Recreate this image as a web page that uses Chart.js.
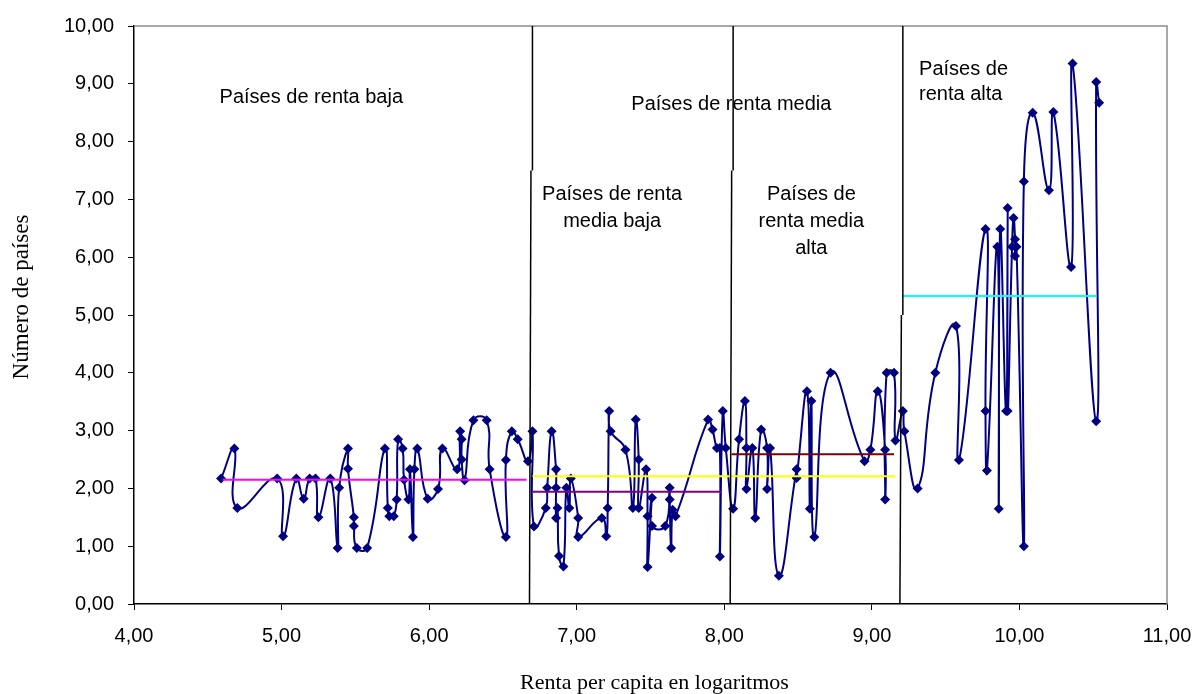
<!DOCTYPE html>
<html>
<head>
<meta charset="utf-8">
<script src="https://cdn.jsdelivr.net/npm/chart.js@4/dist/chart.umd.min.js"></script>
<style>
  html, body { margin: 0; padding: 0; background: #fff; }
  #wrap { width: 1200px; height: 694px; }
</style>
</head>
<body>
<div id="wrap"><canvas id="c" width="1200" height="694"></canvas></div>
<script>
// Renta per capita (log) de cada país, ordenada
const renta = [
  4.59, 4.68, 4.70, 4.97, 5.01, 5.10, 5.15, 5.19, 5.23, 5.25,
  5.33, 5.38, 5.39, 5.45, 5.45, 5.49, 5.49, 5.51, 5.58, 5.70,
  5.72, 5.73, 5.76, 5.78, 5.79, 5.82, 5.83, 5.86, 5.87, 5.89,
  5.90, 5.92, 5.99, 6.06, 6.09, 6.19, 6.21, 6.22, 6.22, 6.24,
  6.30, 6.39, 6.41, 6.52, 6.52, 6.56, 6.60, 6.67, 6.70, 6.71,
  6.79, 6.80, 6.83, 6.86, 6.86, 6.86, 6.87, 6.88, 6.91, 6.93,
  6.95, 6.96, 7.01, 7.01, 7.17, 7.20, 7.21, 7.22, 7.23, 7.33,
  7.38, 7.40, 7.42, 7.42, 7.47, 7.48, 7.48, 7.51, 7.51, 7.60,
  7.63, 7.63, 7.64, 7.65, 7.67, 7.89, 7.92, 7.95, 7.97, 7.97,
  7.99, 8.01, 8.06, 8.10, 8.14, 8.15, 8.15, 8.19, 8.21, 8.25,
  8.29, 8.29, 8.31, 8.37, 8.49, 8.49, 8.56, 8.58, 8.59, 8.61,
  8.72, 8.95, 8.99, 9.04, 9.09, 9.09, 9.10, 9.15, 9.16, 9.21,
  9.22, 9.31, 9.43, 9.57, 9.59, 9.77, 9.77, 9.78, 9.85, 9.86,
  9.87, 9.91, 9.92, 9.92, 9.95, 9.96, 9.97, 9.97, 9.98, 10.03,
  10.03, 10.09, 10.20, 10.23, 10.35, 10.36, 10.52, 10.52, 10.54
];
// Número de países asociado a cada valor de renta
const numPaises = [
  2.17, 2.69, 1.66, 2.17, 1.17, 2.17, 1.82, 2.17, 2.17, 1.50,
  2.17, 0.97, 2.01, 2.69, 2.34, 1.50, 1.35, 0.97, 0.97, 2.69,
  1.66, 1.52, 1.52, 1.81, 2.85, 2.69, 2.15, 1.81, 2.33, 1.16,
  2.33, 2.69, 1.82, 1.99, 2.69, 2.33, 2.99, 2.85, 2.50, 2.14,
  3.18, 3.18, 2.33, 1.16, 2.49, 2.99, 2.85, 2.47, 2.99, 1.34,
  1.66, 2.01, 2.99, 2.33, 2.01, 1.49, 1.66, 0.83, 0.65, 2.01,
  1.66, 2.17, 1.49, 1.16, 1.49, 1.17, 1.66, 3.34, 2.99, 2.67,
  1.66, 3.19, 2.50, 1.66, 2.33, 1.52, 0.64, 1.84, 1.35, 1.35,
  2.01, 1.81, 0.97, 1.63, 1.52, 3.19, 3.02, 2.70, 2.70, 0.82,
  3.34, 2.70, 1.65, 2.85, 3.51, 2.70, 1.99, 2.70, 1.49, 3.02,
  2.70, 1.99, 2.70, 0.49, 2.33, 2.18, 3.68, 1.65, 3.51, 1.16,
  4.00, 2.47, 2.67, 3.68, 2.67, 1.81, 4.00, 4.00, 2.83, 3.34,
  2.99, 2.00, 4.00, 4.81, 2.49, 6.49, 3.34, 2.31, 6.18, 1.65,
  6.49, 3.34, 6.85, 3.34, 6.18, 6.68, 6.31, 6.02, 6.18, 1.00,
  7.31, 8.50, 7.16, 8.51, 5.83, 9.35, 3.16, 9.03, 8.67
];

// Medias por grupo de renta
const mediaGrupo  = ['baja', 'media', 'media baja', 'media alta', 'alta'];
const mediaValor  = [2.15, 2.21, 1.94, 2.59, 5.33];
const mediaDesde  = [4.60, 6.70, 6.70, 8.05, 9.21];
const mediaHasta  = [6.66, 9.16, 7.98, 9.15, 10.52];
const mediaColor  = ['#FF00FF', '#FFFF00', '#800080', '#800000', '#00FFFF'];

// Límites entre grupos (tramo superior e inferior de cada separador)
const limiteSup   = [6.70, 8.06, 9.21];
const limiteInf   = [6.68, 8.04, 9.19];
const limiteCorte = [7.5, 7.5, 5.0];

const ejeX = { min: 4, max: 11, paso: 1 };
const ejeY = { min: 0, max: 10, paso: 1 };

const fmt = v => Number(v).toFixed(2).replace('.', ',');

const datasets = [];
datasets.push({
  label: 'Número de países',
  data: renta.map((x, i) => ({ x, y: numPaises[i] })),
  showLine: true,
  borderColor: '#000080',
  borderWidth: 2,
  backgroundColor: '#000080',
  pointStyle: 'rectRot',
  pointRadius: 5,
  pointBorderWidth: 0,
  pointBackgroundColor: '#000080',
  tension: 0.5,
  order: 10
});
mediaValor.forEach((v, i) => {
  datasets.push({
    label: 'Media ' + mediaGrupo[i],
    data: [{ x: mediaDesde[i], y: v }, { x: mediaHasta[i], y: v }],
    showLine: true,
    borderColor: mediaColor[i],
    borderWidth: 2,
    pointRadius: 0,
    tension: 0,
    order: 2
  });
});
limiteSup.forEach((xs, i) => {
  datasets.push({
    label: 'Límite ' + (i + 1),
    data: [{ x: xs, y: ejeY.max }, { x: xs, y: limiteCorte[i] }],
    showLine: true, borderColor: '#000', borderWidth: 1.5, pointRadius: 0, tension: 0, order: 1
  });
  datasets.push({
    label: 'Límite ' + (i + 1) + 'b',
    data: [{ x: limiteInf[i] + 0.01, y: limiteCorte[i] }, { x: limiteInf[i], y: ejeY.min }],
    showLine: true, borderColor: '#000', borderWidth: 1.5, pointRadius: 0, tension: 0, order: 1
  });
});

// Rótulos de los grupos: [líneas, x, y, alineación, interlineado]
const rotulos = [
  [['Países de renta baja'], 4.58, 8.76, 'left', 27],
  [['Países de renta media'], 7.37, 8.64, 'left', 27],
  [['Países de renta', 'media baja'], 7.24, 7.08, 'center', 27],
  [['Países de', 'renta media', 'alta'], 8.59, 7.08, 'center', 27],
  [['Países de', 'renta alta'], 9.32, 9.25, 'left', 25]
];

const decoracion = {
  id: 'decoracion',
  beforeDatasetsDraw(chart) {
    const { ctx, chartArea: a } = chart;
    ctx.save();
    ctx.strokeStyle = '#8c8c8c';
    ctx.lineWidth = 1.5;
    ctx.beginPath();
    ctx.moveTo(a.left, a.top);
    ctx.lineTo(a.right, a.top);
    ctx.lineTo(a.right, a.bottom);
    ctx.stroke();
    ctx.restore();
  },
  afterDatasetsDraw(chart) {
    const { ctx, scales: { x, y } } = chart;
    ctx.save();
    ctx.fillStyle = '#000';
    ctx.font = '20px "Liberation Sans", Arial, sans-serif';
    ctx.textBaseline = 'middle';
    rotulos.forEach(([lineas, vx, vy, al, lh]) => {
      ctx.textAlign = al;
      const px = x.getPixelForValue(vx);
      const py = y.getPixelForValue(vy);
      lineas.forEach((t, k) => ctx.fillText(t, px, py + k * lh));
    });
    // Títulos de los ejes
    ctx.font = '22px "Liberation Serif", "Times New Roman", serif';
    ctx.textAlign = 'center';
    ctx.fillText('Renta per capita en logaritmos', (chart.chartArea.left + chart.chartArea.right) / 2 + 4, 683);
    ctx.translate(22, 297);
    ctx.rotate(-Math.PI / 2);
    ctx.font = '23px "Liberation Serif", "Times New Roman", serif';
    ctx.fillText('Número de países', 0, 0);
    ctx.restore();
  }
};

const tickFont = { family: '"Liberation Sans", Arial, sans-serif', size: 20 };

new Chart(document.getElementById('c'), {
  type: 'scatter',
  data: { datasets },
  options: {
    responsive: false,
    animation: false,
    layout: { padding: { left: 0, top: 26, right: 33, bottom: 0 } },
    plugins: { legend: { display: false }, tooltip: { enabled: false } },
    scales: {
      x: {
        type: 'linear', min: ejeX.min, max: ejeX.max,
        ticks: { stepSize: ejeX.paso, callback: fmt, color: '#000', font: tickFont, padding: 14, maxRotation: 0 },
        grid: { drawOnChartArea: false, drawTicks: true, tickLength: 6, color: '#000' },
        border: { display: true, color: '#000', width: 1.5 },
        afterFit: s => { s.height = 90; s.paddingLeft = 0; s.paddingRight = 0; }
      },
      y: {
        type: 'linear', min: ejeY.min, max: ejeY.max,
        ticks: { stepSize: ejeY.paso, callback: fmt, color: '#000', font: tickFont, padding: 14 },
        grid: { drawOnChartArea: false, drawTicks: true, tickLength: 6, color: '#000' },
        border: { display: true, color: '#000', width: 1.5 },
        afterFit: s => { s.width = 134; s.paddingTop = 0; s.paddingBottom = 0; }
      }
    }
  },
  plugins: [decoracion]
});
</script>
</body>
</html>
